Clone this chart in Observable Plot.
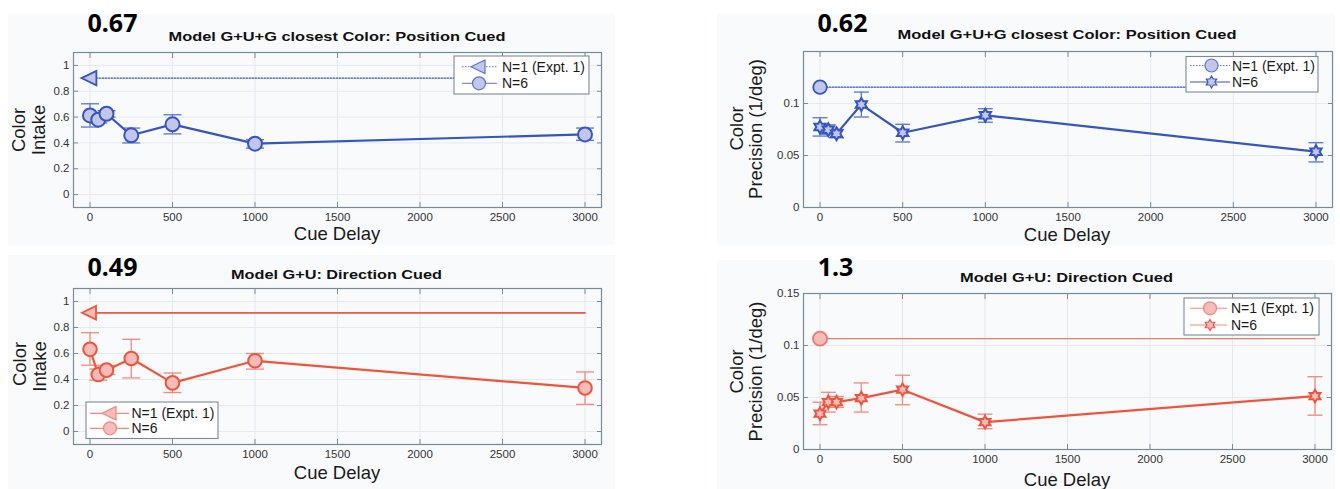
<!DOCTYPE html>
<html>
<head>
<meta charset="utf-8">
<script src="https://cdn.jsdelivr.net/npm/d3@7"></script>
<script src="https://cdn.jsdelivr.net/npm/@observablehq/plot@0.6"></script>
<style>
  html, body { margin: 0; padding: 0; background: #ffffff; }
  #root { position: relative; width: 1340px; height: 489px; overflow: hidden; background: #ffffff; font-family: 'Liberation Sans', Arial, sans-serif; }
  .panel { position: absolute; background: #f9fafc; }
  .panel svg { display: block; }
  #overlay { position: absolute; left: 0; top: 0; pointer-events: none; }
</style>
</head>
<body>
<div id="root"></div>
<script>
// ---------------- data ----------------
const delays = [0, 50, 100, 250, 500, 1000, 3000];
const xTicks = [0, 500, 1000, 1500, 2000, 2500, 3000];
const intakeTicks = [0, 0.2, 0.4, 0.6, 0.8, 1];
const precTicksTop = [0, 0.05, 0.1];
const precTicksBottom = [0, 0.05, 0.1, 0.15];

// Top-left: Model G+U+G closest Color: Position Cued — Color Intake
const posIntake   = [0.613, 0.580, 0.626, 0.459, 0.544, 0.394, 0.466];
const posIntakeLo = [0.523, 0.555, 0.600, 0.400, 0.470, 0.360, 0.420];
const posIntakeHi = [0.703, 0.605, 0.650, 0.515, 0.618, 0.425, 0.515];
const posIntakeN1 = 0.902;

// Top-right: Model G+U+G closest Color: Position Cued — Color Precision
const posPrec   = [0.0774, 0.0748, 0.0710, 0.0990, 0.0719, 0.0886, 0.0537];
const posPrecLo = [0.0687, 0.0705, 0.0670, 0.0870, 0.0630, 0.0820, 0.0438];
const posPrecHi = [0.0863, 0.0795, 0.0750, 0.1110, 0.0800, 0.0950, 0.0623];
const posPrecN1 = 0.1157;

// Bottom-left: Model G+U: Direction Cued — Color Intake
const dirIntake   = [0.632, 0.438, 0.472, 0.562, 0.374, 0.544, 0.335];
const dirIntakeLo = [0.510, 0.395, 0.440, 0.412, 0.300, 0.480, 0.209];
const dirIntakeHi = [0.760, 0.480, 0.505, 0.709, 0.450, 0.600, 0.458];
const dirIntakeN1 = 0.913;

// Bottom-right: Model G+U: Direction Cued — Color Precision
const dirPrec   = [0.0344, 0.0456, 0.0456, 0.0494, 0.0575, 0.0263, 0.0514];
const dirPrecLo = [0.0238, 0.0360, 0.0405, 0.0360, 0.0430, 0.0200, 0.0330];
const dirPrecHi = [0.0455, 0.0550, 0.0510, 0.0640, 0.0714, 0.0340, 0.0700];
const dirPrecN1 = 0.1066;

const titlePos = "Model G+U+G closest Color: Position Cued";
const titleDir = "Model G+U: Direction Cued";
const bigNumbers = ["0.67", "0.62", "0.49", "1.3"];
const legendLabels = ["N=1 (Expt. 1)", "N=6"];

// ---------------- styles ----------------
const C = {
  frame: "#7a8b98", grid: "#e4e9ef", tick: "#333333",
  blue: "#3455c4", blueFill: "#c4c6e9", blueErr: "#5b74d2",
  red: "#f0553c", redFill: "#f6bcb9", redErr: "#f3897a", redN1: "#f27a68"
};

const leftTri = {draw(ctx, size) { const r = Math.sqrt(size / Math.PI); ctx.moveTo(-r, 0); ctx.lineTo(r * 0.75, -r * 0.85); ctx.lineTo(r * 0.75, r * 0.85); ctx.closePath(); }};
const hexagram = {draw(ctx, size) {
  const R = Math.sqrt(size / Math.PI), ri = R / Math.sqrt(3);
  for (let k = 0; k < 12; k++) {
    const a = -Math.PI / 2 + k * Math.PI / 6, rr = k % 2 ? ri : R;
    const px = rr * Math.cos(a), py = rr * Math.sin(a);
    if (k) ctx.lineTo(px, py); else ctx.moveTo(px, py);
  }
  ctx.closePath();
}};
const circle = {draw(ctx, size) { const r = Math.sqrt(size / Math.PI); ctx.moveTo(r, 0); ctx.arc(0, 0, r, 0, 2 * Math.PI); }};
const cap = {draw(ctx, size) { const r = Math.sqrt(size / Math.PI); ctx.moveTo(-r, 0); ctx.lineTo(r, 0); }};

function panel(cfg) {
  const data = delays.map((d, i) => ({x: d, y: cfg.vals[i], lo: cfg.lo[i], hi: cfg.hi[i]}));
  const n1Line = [{x: delays[0], y: cfg.n1}, {x: delays[delays.length - 1], y: cfg.n1}];
  return Plot.plot({
    width: cfg.width, height: cfg.height,
    marginLeft: cfg.ml, marginRight: cfg.mr, marginTop: cfg.mt, marginBottom: cfg.mb,
    x: {domain: [-100, 3100], label: null},
    y: {domain: cfg.yDomain, label: null},
    style: {fontFamily: "'Liberation Sans', Arial, sans-serif", fontSize: "11.5px", background: "transparent", overflow: "visible"},
    marks: [
      Plot.gridX(xTicks, {stroke: C.grid, strokeOpacity: 1}),
      Plot.gridY(cfg.yTicks, {stroke: C.grid, strokeOpacity: 1}),
      Plot.axisX(xTicks, {anchor: "bottom", tickSize: -5, tickPadding: 10, tickFormat: d => String(d), label: null, stroke: C.frame, fill: C.tick}),
      Plot.axisX(xTicks, {anchor: "top", tickSize: -5, tickFormat: () => "", label: null, stroke: C.frame}),
      Plot.axisY(cfg.yTicks, {anchor: "left", tickSize: -5, tickPadding: 9, tickFormat: d => String(d), label: null, stroke: C.frame, fill: C.tick}),
      Plot.axisY(cfg.yTicks, {anchor: "right", tickSize: -5, tickFormat: () => "", label: null, stroke: C.frame}),
      Plot.frame({stroke: C.frame, strokeWidth: 1.2}),
      Plot.line(n1Line, {x: "x", y: "y", stroke: cfg.n1Color, strokeWidth: cfg.n1Width, strokeDasharray: cfg.n1Dash}),
      Plot.ruleX(data, {x: "x", y1: "lo", y2: "hi", stroke: cfg.err, strokeWidth: 1.3}),
      Plot.dot(data, {x: "x", y: "lo", symbol: cap, r: cfg.capR, fill: "none", stroke: cfg.err, strokeWidth: 1.3}),
      Plot.dot(data, {x: "x", y: "hi", symbol: cap, r: cfg.capR, fill: "none", stroke: cfg.err, strokeWidth: 1.3}),
      Plot.line(data, {x: "x", y: "y", stroke: cfg.color, strokeWidth: 2.2}),
      Plot.dot(data, {x: "x", y: "y", symbol: cfg.sym6, r: cfg.r6, fill: cfg.fill, stroke: cfg.color, strokeWidth: 2}),
      Plot.dot([n1Line[0]], {x: "x", y: "y", symbol: cfg.sym1, r: cfg.r1, fill: cfg.fill, stroke: cfg.n1MarkStroke, strokeWidth: 1.8})
    ]
  });
}

const root = document.getElementById("root");
function place(svg, left, top, width, height) {
  const div = document.createElement("div");
  div.className = "panel";
  Object.assign(div.style, {left: left + "px", top: top + "px", width: width + "px", height: height + "px"});
  div.appendChild(svg);
  root.appendChild(div);
}

// Top-left
place(panel({width: 607, height: 231, ml: 65, mr: 14, mt: 38, mb: 38,
  yDomain: [-0.1, 1.1], yTicks: intakeTicks, vals: posIntake, lo: posIntakeLo, hi: posIntakeHi, n1: posIntakeN1,
  color: C.blue, fill: C.blueFill, err: C.blueErr, n1Color: C.blue, n1Width: 1.3, n1Dash: "1.5,1.5", n1MarkStroke: C.blue,
  sym6: circle, r6: 7, sym1: leftTri, r1: 8.5, capR: 9}), 8, 14, 607, 231);

// Top-right
place(panel({width: 618, height: 231, ml: 86, mr: 3, mt: 37, mb: 38,
  yDomain: [0, 0.15], yTicks: precTicksTop, vals: posPrec, lo: posPrecLo, hi: posPrecHi, n1: posPrecN1,
  color: C.blue, fill: C.blueFill, err: C.blueErr, n1Color: C.blue, n1Width: 1.3, n1Dash: "1.5,1.5", n1MarkStroke: C.blue,
  sym6: hexagram, r6: 6.5, sym1: circle, r1: 6.8, capR: 7.5}), 717, 14, 618, 231);

// Bottom-left
place(panel({width: 607, height: 234, ml: 65, mr: 14, mt: 33, mb: 45,
  yDomain: [-0.1, 1.1], yTicks: intakeTicks, vals: dirIntake, lo: dirIntakeLo, hi: dirIntakeHi, n1: dirIntakeN1,
  color: C.red, fill: C.redFill, err: C.redErr, n1Color: C.red, n1Width: 1.8, n1Dash: "3,1", n1MarkStroke: C.red,
  sym6: circle, r6: 6.8, sym1: leftTri, r1: 8, capR: 9}), 8, 255, 607, 234);

// Bottom-right
place(panel({width: 618, height: 229, ml: 86, mr: 4, mt: 33, mb: 40,
  yDomain: [0, 0.15], yTicks: precTicksBottom, vals: dirPrec, lo: dirPrecLo, hi: dirPrecHi, n1: dirPrecN1,
  color: C.red, fill: C.redFill, err: C.redErr, n1Color: C.redN1, n1Width: 1.2, n1Dash: null, n1MarkStroke: C.redN1,
  sym6: hexagram, r6: 6.3, sym1: circle, r1: 7, capR: 7.5}), 717, 260, 618, 229);

// ---------------- overlay text & legends ----------------
const NS = "http://www.w3.org/2000/svg";
const ov = document.createElementNS(NS, "svg");
ov.setAttribute("id", "overlay");
ov.setAttribute("width", 1340); ov.setAttribute("height", 489);
root.appendChild(ov);

function text(str, x, y, opts = {}) {
  const t = document.createElementNS(NS, "text");
  t.textContent = str;
  t.setAttribute("x", x); t.setAttribute("y", y);
  t.setAttribute("text-anchor", opts.anchor || "middle");
  t.setAttribute("font-family", opts.family || "'Liberation Sans', Arial, sans-serif");
  t.setAttribute("font-size", opts.size || 14);
  t.setAttribute("font-weight", opts.weight || "normal");
  t.setAttribute("fill", opts.fill || "#111");
  if (opts.rotate) t.setAttribute("transform", `rotate(${opts.rotate},${x},${y})`);
  if (opts.textLength) { t.setAttribute("textLength", opts.textLength); t.setAttribute("lengthAdjust", "spacingAndGlyphs"); }
  ov.appendChild(t);
  return t;
}

// Big numbers
const bigOpts = {family: "'Noto Sans', 'Open Sans', sans-serif", size: 25, weight: "bold", fill: "#000"};
text(bigNumbers[0], 112.5, 32, bigOpts);
text(bigNumbers[1], 842.5, 32, bigOpts);
text(bigNumbers[2], 112.5, 276, bigOpts);
text(bigNumbers[3], 835.5, 276, bigOpts);

// Titles
const tOpts = {size: 13.5, weight: "bold", fill: "#111"};
text(titlePos, 337, 40.5, {...tOpts, textLength: 337});
text(titlePos, 1067, 38.5, {...tOpts, textLength: 339});
text(titleDir, 336.5, 279, {...tOpts, textLength: 211});
text(titleDir, 1066.5, 281.5, {...tOpts, textLength: 213});

// Axis labels
const lab = {size: 18.5, fill: "#1a1a1a"};
text("Cue Delay", 337, 240, lab);
text("Cue Delay", 1067, 241, lab);
text("Cue Delay", 337, 478.5, lab);
text("Cue Delay", 1067, 485.5, lab);

text("Color", 25, 130, {...lab, rotate: -90});
text("Intake", 45, 130, {...lab, rotate: -90});
text("Color", 25.5, 364, {...lab, rotate: -90});
text("Intake", 46, 366.5, {...lab, rotate: -90});
text("Color", 743, 128.5, {...lab, rotate: -90});
text("Precision (1/deg)", 762, 129, {...lab, rotate: -90});
text("Color", 743, 371.5, {...lab, rotate: -90});
text("Precision (1/deg)", 762, 371.5, {...lab, rotate: -90});

// Legends
function symPath(sym, r) { const p = d3.path(); sym.draw(p, r * r * Math.PI); return p.toString(); }
function legend(box, rows, lineX1, lineX2, markX, textX, entries) {
  const rect = document.createElementNS(NS, "rect");
  rect.setAttribute("x", box[0]); rect.setAttribute("y", box[1]);
  rect.setAttribute("width", box[2]); rect.setAttribute("height", box[3]);
  rect.setAttribute("fill", "#ffffff"); rect.setAttribute("stroke", C.frame); rect.setAttribute("stroke-width", 1.1);
  ov.appendChild(rect);
  entries.forEach((e, i) => {
    const y = rows[i];
    const l = document.createElementNS(NS, "line");
    l.setAttribute("x1", lineX1); l.setAttribute("x2", lineX2);
    l.setAttribute("y1", y); l.setAttribute("y2", y);
    l.setAttribute("stroke", e.stroke); l.setAttribute("stroke-width", e.width);
    if (e.dash) l.setAttribute("stroke-dasharray", e.dash);
    ov.appendChild(l);
    const p = document.createElementNS(NS, "path");
    p.setAttribute("d", symPath(e.sym, e.r));
    p.setAttribute("transform", `translate(${markX},${y})`);
    p.setAttribute("fill", e.fill); p.setAttribute("stroke", e.mstroke); p.setAttribute("stroke-width", e.mw || 1.2);
    ov.appendChild(p);
    text(legendLabels[i], textX, y + 5, {anchor: "start", size: 14, fill: "#1a1a1a"});
  });
}

legend([454, 56, 135, 38], [66.7, 83.3], 462, 497, 479, 502, [
  {stroke: C.blueErr, width: 1, dash: "1.5,1.5", sym: leftTri, r: 8, fill: C.blueFill, mstroke: C.blueErr},
  {stroke: C.blueErr, width: 1, sym: circle, r: 6.5, fill: C.blueFill, mstroke: C.blueErr}
]);
legend([1186, 56.5, 132, 35.5], [65.5, 82], 1190, 1230, 1211.5, 1232, [
  {stroke: C.blueErr, width: 1, dash: "1.5,1.5", sym: circle, r: 6.5, fill: C.blueFill, mstroke: C.blueErr},
  {stroke: C.blue, width: 1.2, sym: hexagram, r: 6, fill: C.blueFill, mstroke: C.blue}
]);
legend([86, 402, 132, 36.5], [413.3, 428.3], 90, 129, 110, 131.5, [
  {stroke: C.redErr, width: 1.3, sym: leftTri, r: 8, fill: C.redFill, mstroke: C.redErr},
  {stroke: C.redErr, width: 1.3, sym: circle, r: 6.5, fill: C.redFill, mstroke: C.redErr}
]);
legend([1184, 298, 135, 37], [308.3, 325], 1190, 1227, 1210, 1231, [
  {stroke: C.redErr, width: 1.1, sym: circle, r: 6.5, fill: C.redFill, mstroke: C.redErr},
  {stroke: C.redErr, width: 1.1, sym: hexagram, r: 5.5, fill: C.redFill, mstroke: C.red}
]);
</script>
</body>
</html>
